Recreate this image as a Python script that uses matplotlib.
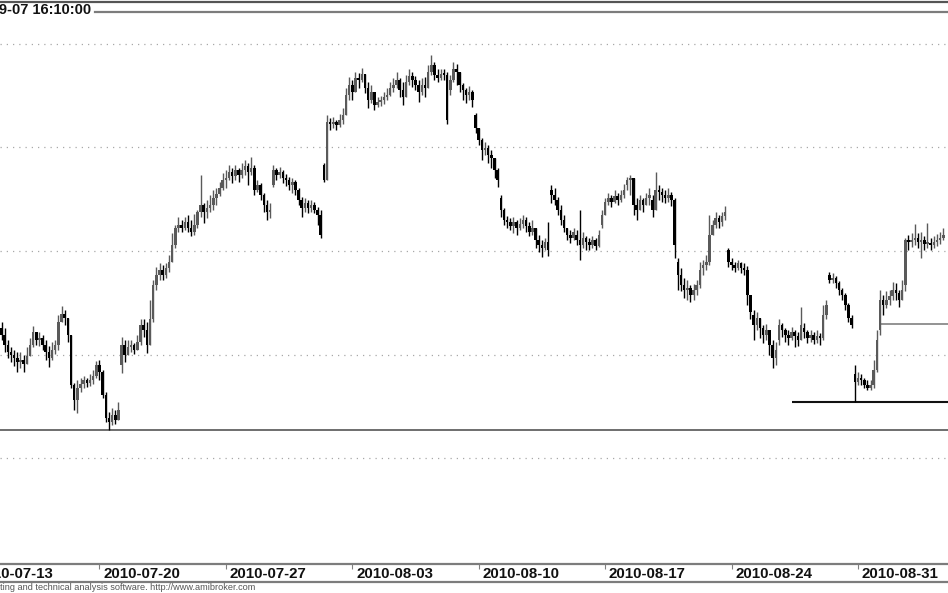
import numpy as np
import matplotlib.pyplot as plt
from matplotlib.lines import Line2D

# hourly bars (one row = one session, first row partial)
closes = [2419, 2409, 2403, 2400, 2397, 2393,
          2395, 2391, 2399, 2409, 2422, 2414, 2416, 2409,
          2403, 2397, 2405, 2409, 2432, 2439, 2435, 2419,
          2371, 2356, 2368, 2372, 2376, 2373, 2376, 2380,
          2390, 2383, 2361, 2339, 2335, 2342, 2337, 2347,
          2409, 2400, 2407, 2409, 2405, 2412, 2429, 2424,
          2409, 2434, 2467, 2477, 2482, 2477, 2484, 2489,
          2506, 2522, 2525, 2522, 2528, 2522, 2518, 2525,
          2538, 2544, 2538, 2541, 2544, 2551, 2555, 2561,
          2568, 2570, 2576, 2572, 2578, 2573, 2578, 2582,
          2576, 2580, 2559, 2564, 2554, 2544, 2538, 2540,
          2578, 2573, 2576, 2570, 2568, 2564, 2567, 2559,
          2549, 2541, 2546, 2541, 2544, 2540, 2535, 2515,
          2568, 2624, 2622, 2624, 2621, 2626, 2631, 2650,
          2660, 2653, 2667, 2665, 2671, 2657, 2646, 2653,
          2641, 2644, 2646, 2648, 2650, 2657, 2660, 2665,
          2655, 2648, 2663, 2669, 2665, 2660, 2653, 2660,
          2657, 2673, 2679, 2670, 2667, 2671, 2670, 2626,
          2665, 2675, 2673, 2660, 2655, 2650, 2653, 2646,
          2619, 2607, 2597, 2599, 2593, 2590, 2578, 2568,
          2540, 2530, 2528, 2524, 2528, 2522, 2526, 2530,
          2524, 2518, 2522, 2511, 2506, 2503, 2509, 2501,
          2554, 2549, 2540, 2530, 2522, 2515, 2513, 2518,
          2511, 2506, 2513, 2509, 2506, 2511, 2505, 2515,
          2535, 2547, 2551, 2547, 2553, 2549, 2554, 2559,
          2568, 2570, 2544, 2540, 2549, 2544, 2551, 2554,
          2540, 2559, 2557, 2554, 2551, 2554, 2549, 2506,
          2477, 2467, 2462, 2464, 2458, 2462, 2467, 2482,
          2487, 2489, 2515, 2525, 2532, 2528, 2534, 2538,
          2489, 2487, 2484, 2488, 2484, 2482, 2458, 2441,
          2429, 2435, 2426, 2419, 2424, 2409, 2397, 2405,
          2429, 2424, 2419, 2416, 2422, 2418, 2414, 2429,
          2422, 2416, 2419, 2414, 2418, 2416, 2438, 2448,
          2472, 2474, 2469, 2462, 2458, 2448, 2435, 2429,
          2374, 2378, 2376, 2371, 2368, 2371, 2385, 2414,
          2453, 2448, 2453, 2457, 2462, 2460, 2453, 2462,
          2511, 2509, 2511, 2513, 2509, 2511, 2507, 2509,
          2506, 2509, 2511, 2513, 2515]

highs = [2432, 2426, 2414, 2407, 2405, 2403,
         2403, 2400, 2407, 2416, 2428, 2422, 2422, 2419,
         2414, 2408, 2412, 2414, 2438, 2447, 2443, 2435,
         2416, 2373, 2376, 2378, 2380, 2378, 2381, 2385,
         2394, 2395, 2385, 2364, 2345, 2349, 2347, 2354,
         2417, 2414, 2414, 2414, 2411, 2419, 2434, 2434,
         2432, 2453, 2472, 2485, 2488, 2487, 2488, 2496,
         2517, 2525, 2533, 2530, 2533, 2535, 2530, 2536,
         2540, 2573, 2546, 2549, 2554, 2559, 2561, 2567,
         2575, 2578, 2583, 2580, 2583, 2580, 2585, 2588,
         2585, 2591, 2583, 2568, 2566, 2556, 2549, 2546,
         2583, 2580, 2581, 2578, 2574, 2571, 2570, 2568,
         2561, 2552, 2551, 2549, 2549, 2547, 2542, 2540,
         2585, 2631, 2628, 2629, 2626, 2632, 2638, 2657,
         2668, 2665, 2673, 2672, 2676, 2670, 2663, 2660,
         2653, 2648, 2649, 2653, 2657, 2663, 2667, 2673,
         2667, 2663, 2670, 2675, 2673, 2669, 2665, 2667,
         2668, 2679, 2689, 2682, 2675, 2675, 2675, 2673,
         2670, 2682, 2680, 2673, 2662, 2657, 2659, 2655,
         2633, 2619, 2609, 2605, 2602, 2597, 2588, 2580,
         2554, 2541, 2534, 2532, 2533, 2530, 2532, 2535,
         2533, 2528, 2530, 2522, 2515, 2511, 2513, 2528,
         2564, 2561, 2552, 2544, 2535, 2522, 2520, 2522,
         2520, 2540, 2518, 2514, 2513, 2514, 2513, 2520,
         2540, 2551, 2556, 2554, 2559, 2556, 2559, 2565,
         2571, 2573, 2570, 2551, 2554, 2551, 2556, 2561,
         2554, 2576, 2564, 2561, 2559, 2561, 2557, 2551,
         2493, 2484, 2474, 2472, 2467, 2468, 2472, 2489,
         2491, 2496, 2535, 2530, 2538, 2535, 2538, 2543,
         2503, 2493, 2489, 2491, 2489, 2488, 2486, 2458,
         2443, 2441, 2435, 2429, 2430, 2424, 2414, 2412,
         2434, 2431, 2426, 2424, 2427, 2424, 2422, 2446,
         2431, 2424, 2424, 2422, 2424, 2421, 2448, 2453,
         2480, 2479, 2476, 2471, 2464, 2460, 2450, 2438,
         2390, 2383, 2381, 2378, 2376, 2376, 2395, 2424,
         2462, 2458, 2461, 2462, 2470, 2469, 2462, 2472,
         2513, 2515, 2517, 2526, 2517, 2518, 2514, 2527,
         2513, 2514, 2516, 2518, 2522]

lows = [2414, 2403, 2397, 2393, 2389, 2383,
        2387, 2383, 2393, 2400, 2407, 2409, 2408, 2405,
        2395, 2388, 2395, 2401, 2405, 2432, 2429, 2412,
        2368, 2347, 2344, 2364, 2368, 2369, 2370, 2372,
        2378, 2376, 2358, 2335, 2327, 2332, 2333, 2337,
        2382, 2393, 2400, 2403, 2401, 2405, 2409, 2417,
        2402, 2409, 2432, 2462, 2472, 2472, 2474, 2480,
        2489, 2503, 2518, 2518, 2520, 2518, 2514, 2515,
        2522, 2533, 2527, 2532, 2538, 2540, 2544, 2553,
        2559, 2561, 2568, 2566, 2568, 2567, 2570, 2573,
        2564, 2573, 2554, 2557, 2549, 2538, 2530, 2532,
        2562, 2568, 2570, 2566, 2563, 2559, 2556, 2554,
        2544, 2533, 2538, 2537, 2538, 2537, 2525, 2513,
        2567, 2568, 2617, 2619, 2617, 2620, 2622, 2633,
        2646, 2646, 2653, 2657, 2663, 2652, 2638, 2643,
        2636, 2639, 2640, 2642, 2646, 2649, 2653, 2657,
        2648, 2641, 2648, 2660, 2658, 2655, 2644, 2650,
        2648, 2665, 2670, 2665, 2663, 2665, 2665, 2622,
        2650, 2663, 2660, 2653, 2646, 2643, 2646, 2639,
        2614, 2602, 2588, 2593, 2585, 2580, 2570, 2562,
        2533, 2525, 2522, 2520, 2517, 2515, 2520, 2522,
        2518, 2514, 2515, 2503, 2499, 2494, 2501, 2495,
        2546, 2544, 2535, 2525, 2518, 2511, 2508, 2511,
        2506, 2491, 2503, 2501, 2501, 2503, 2501, 2504,
        2522, 2535, 2544, 2542, 2546, 2544, 2547, 2551,
        2559, 2554, 2535, 2530, 2540, 2538, 2544, 2544,
        2533, 2549, 2549, 2547, 2546, 2547, 2543, 2493,
        2462, 2461, 2455, 2453, 2451, 2453, 2458, 2464,
        2477, 2482, 2487, 2515, 2522, 2522, 2524, 2530,
        2485, 2482, 2480, 2482, 2479, 2477, 2448, 2434,
        2414, 2424, 2416, 2411, 2414, 2400, 2387, 2390,
        2409, 2417, 2412, 2409, 2414, 2407, 2408, 2419,
        2416, 2411, 2412, 2410, 2411, 2409, 2414, 2434,
        2469, 2469, 2464, 2458, 2453, 2443, 2432, 2426,
        2354, 2371, 2371, 2368, 2366, 2366, 2368, 2383,
        2419, 2438, 2445, 2448, 2453, 2453, 2446, 2453,
        2461, 2501, 2504, 2506, 2503, 2493, 2501, 2503,
        2501, 2503, 2505, 2507, 2511]

# session opens that gap away from the previous close
gap_opens = {0: 2426, 38: 2390, 86: 2564, 102: 2583, 142: 2655, 150: 2631,
             158: 2551, 174: 2559, 182: 2515, 190: 2525, 198: 2564, 206: 2549,
             214: 2489, 222: 2484, 230: 2501, 238: 2438, 246: 2414, 254: 2426,
             262: 2477, 270: 2381, 278: 2424, 286: 2467, 294: 2508}

grid_levels = [2300, 2400, 2500, 2600, 2700]
support_level = 2327
low_level, low_from = 2354, 250
mid_level, mid_from = 2430, 278

tick_bars = [-9, 31, 71, 111, 151, 191, 231, 271]
tick_labels = ['2010-07-13', '2010-07-20', '2010-07-27', '2010-08-03',
               '2010-08-10', '2010-08-17', '2010-08-24', '2010-08-31']

title_text = '2010-09-07 16:10:00'
footer_text = 'AmiBroker - charting and technical analysis software. http://www.amibroker.com'

plt.rcParams['font.family'] = ['Liberation Sans', 'DejaVu Sans']

c = np.array(closes, dtype=float)
h = np.array(highs, dtype=float)
l = np.array(lows, dtype=float)
o = np.concatenate([[c[0]], c[:-1]])
for k, v in gap_opens.items():
    o[k] = v
x = np.arange(len(c))

fig = plt.figure(figsize=(9.48, 5.93), dpi=100)
W, H = 948, 593

# price pane: from y=12 to y=564 px
ax = fig.add_axes([0, (H - 564) / H, 1, (564 - 12) / H])
ax.set_xlim(-0.475, 299.5)
ax.set_ylim(2198.3, 2730.4)
ax.axis('off')

for g in grid_levels:
    ax.axhline(g, color='#a8a8a8', lw=0.9, ls=(0, (1, 4)), zorder=1)

ax.axhline(support_level, color='#6e6e6e', lw=1.4, zorder=2)
ax.hlines(low_level, low_from, 299.5, color='#111111', lw=1.5, zorder=2)
ax.hlines(mid_level, mid_from, 299.5, color='#808080', lw=1.2, zorder=2)

up = c >= o
colors = np.where(up, '#5a5a5a', '#000000')
lo = np.minimum(l, np.minimum(o, c))
hi = np.maximum(h, np.maximum(o, c))
ax.vlines(x, lo, hi, colors=colors, lw=1.0, zorder=3)
ax.bar(x, np.maximum(np.abs(c - o), 1.5), bottom=np.minimum(o, c), width=0.8,
       color=colors, linewidth=0, zorder=4)

# date band: y=564..582 px
ax2 = fig.add_axes([0, (H - 582) / H, 1, 18 / H], sharex=ax)
ax2.set_ylim(0, 1)
ax2.axis('off')
ax2.vlines(tick_bars, 0.72, 1.0, color='#808080', lw=0.8)
for b, lab in zip(tick_bars, tick_labels):
    ax2.text(b + 1.2, 0.47, lab, ha='left', va='center', fontsize=10.8,
             fontweight='bold', color='#111111')

# frame lines
gray = '#7c7c7c'
fig.add_artist(Line2D([0, 1], [1 - 1.5 / H] * 2, color='#555555', lw=1.6))
fig.add_artist(Line2D([95 / W, 1], [1 - 12 / H] * 2, color=gray, lw=1.6))
fig.add_artist(Line2D([0, 1], [1 - 564 / H] * 2, color=gray, lw=1.6))
fig.add_artist(Line2D([0, 1], [1 - 582 / H] * 2, color=gray, lw=1.6))

fig.text(91 / W, 1 - 9.5 / H, title_text, ha='right', va='center',
         fontsize=10.5, fontweight='bold', color='#111111')
fig.text(255 / W, 1 - 588 / H, footer_text, ha='right', va='center',
         fontsize=6.6, color='#555555')

fig.savefig('out.png', dpi=100)
